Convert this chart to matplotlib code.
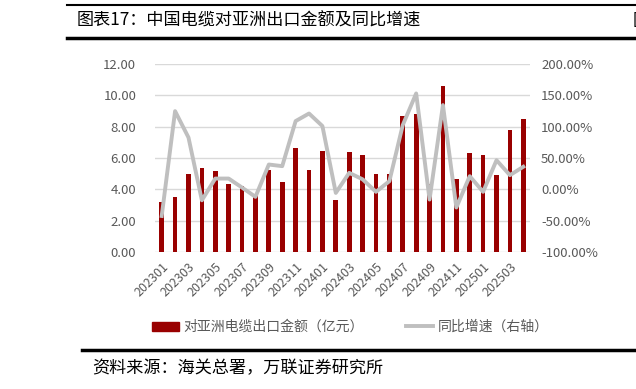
import matplotlib
matplotlib.use("Agg")
import matplotlib.pyplot as plt
from matplotlib.lines import Line2D
from matplotlib.patches import Patch

plt.rcParams['font.family'] = ['Noto Sans CJK SC', 'DejaVu Sans']
plt.rcParams['axes.unicode_minus'] = False

# 月份
months = ['202301', '202302', '202303', '202304', '202305', '202306', '202307',
          '202308', '202309', '202310', '202311', '202312', '202401', '202402',
          '202403', '202404', '202405', '202406', '202407', '202408', '202409',
          '202410', '202411', '202412', '202501', '202502', '202503', '202504']
# 对亚洲电缆出口金额（亿元）
amount = [3.20, 3.52, 4.97, 5.39, 5.14, 4.31, 4.20, 3.55, 5.22, 4.50, 6.61, 5.22,
          6.42, 3.35, 6.38, 6.20, 4.95, 4.97, 8.68, 8.81, 4.37, 10.62, 4.63, 6.31,
          6.20, 4.90, 7.78, 8.51]
# 同比增速（%）
yoy = [-42.5, 124.8, 82.7, -17.5, 17.2, 17.2, 2.8, -12.0, 39.6, 37.0, 108.9, 121.0,
       101.0, -5.7, 26.3, 16.0, -4.0, 13.0, 102.5, 153.0, -16.3, 134.4, -29.0, 21.0,
       -4.0, 46.5, 22.6, 36.0]

left_ticks = [0, 2, 4, 6, 8, 10, 12]
right_ticks = [-100, -50, 0, 50, 100, 150, 200]

W, H = 636, 389
fig = plt.figure(figsize=(W / 100, H / 100), dpi=100)

bar_color = '#990000'
line_color = '#BFBFBF'
tick_color = '#595959'

ax = fig.add_axes([155 / W, 1 - 252 / H, (530 - 155) / W, (252 - 64) / H])
x = list(range(len(months)))
ax.bar(x, amount, width=0.35, color=bar_color, zorder=3)
ax.set_ylim(0, 12)
ax.set_xlim(-0.5, len(months) - 0.5)
ax.set_yticks(left_ticks)
ax.set_yticklabels(['%.2f' % v for v in left_ticks], color=tick_color, fontsize=9.5)
ax.grid(axis='y', color='#D9D9D9', linewidth=1, zorder=0)
for s in ax.spines.values():
    s.set_visible(False)
ax.tick_params(axis='both', length=0)
ax.tick_params(axis='y', pad=13.5)
ax.set_xticks(x[::2])
ax.set_xticklabels(months[::2], rotation=45, ha='right', rotation_mode='anchor',
                   color=tick_color, fontsize=9)
ax.tick_params(axis='x', pad=6)

ax2 = ax.twinx()
ax2.plot(x, yoy, color=line_color, linewidth=2.8, zorder=4)
ax2.set_ylim(-100, 200)
ax2.set_yticks(right_ticks)
ax2.set_yticklabels(['%.2f%%' % v for v in right_ticks], color=tick_color, fontsize=9.5)
for s in ax2.spines.values():
    s.set_visible(False)
ax2.tick_params(axis='y', length=0, pad=8)

# 图例
handles = [Patch(color=bar_color), Line2D([0], [0], color=line_color, linewidth=2.8)]
labels = ['对亚洲电缆出口金额（亿元）', '同比增速（右轴）']
fig.legend(handles, labels, loc='center', bbox_to_anchor=(350 / W, 1 - 327 / H),
           ncol=2, frameon=False, fontsize=10, handlelength=2.0, handleheight=0.6,
           columnspacing=3.0, handletextpad=0.3, labelcolor=tick_color)

# 标题及框线
fig.add_artist(Line2D([67 / W, 1], [1 - 5 / H, 1 - 5 / H], color='black', linewidth=1.5))
fig.add_artist(Line2D([67 / W, 1], [1 - 37.5 / H, 1 - 37.5 / H], color='black', linewidth=2.5))
fig.text(77 / W, 1 - 21 / H, '图表17：中国电缆对亚洲出口金额及同比增速', fontsize=12.3,
         va='center', ha='left', color='black')
fig.text(633 / W, 1 - 21 / H, '图', fontsize=12.3, va='center', ha='left', color='black')
fig.add_artist(Line2D([82 / W, 1], [1 - 350 / H, 1 - 350 / H], color='black', linewidth=2.5))
fig.text(92 / W, 1 - 368 / H, '资料来源：海关总署，万联证券研究所', fontsize=12.3,
         va='center', ha='left', color='black', style='italic')

fig.savefig('out.png', dpi=100)
